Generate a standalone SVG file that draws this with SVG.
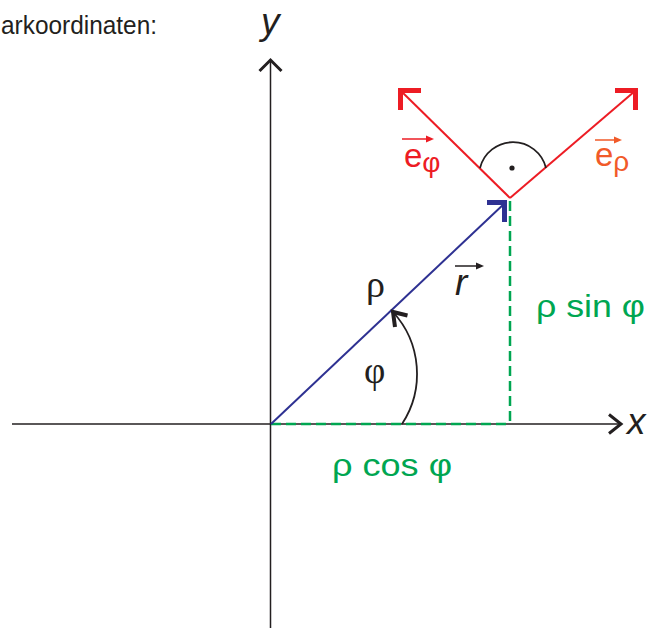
<svg xmlns="http://www.w3.org/2000/svg" width="650" height="628" viewBox="0 0 650 628">
<style>
.ax{stroke:#231f20;stroke-width:1.5;fill:none}
.chev{fill:none;stroke-linecap:butt;stroke-linejoin:miter}
.dash{stroke:#00a651;stroke-width:2.5;stroke-dasharray:10 5;fill:none}
.red{stroke:#ed1c24}
.sans{font-family:"Liberation Sans",Arial,sans-serif}
.serif{font-family:"Liberation Serif","Times New Roman",serif}
.dark{fill:#231f20}
.green{fill:#00a651}
</style>
<rect width="650" height="628" fill="#ffffff"/>
<g id="title">
<text class="sans dark" x="1" y="34" font-size="25" textLength="156" lengthAdjust="spacingAndGlyphs">arkoordinaten:</text>
</g>
<g id="axes">
<line class="ax" x1="270.5" y1="60" x2="270.5" y2="628"/>
<path class="chev" d="M259.5,71 L270.5,60 L281.5,71" stroke="#231f20" stroke-width="3"/>
<line class="ax" x1="12" y1="424" x2="620" y2="424"/>
<path class="chev" d="M609,414.5 L621,424 L609,433.5" stroke="#231f20" stroke-width="3"/>
<text class="sans dark" x="261" y="34" font-size="37" font-style="italic">y</text>
<text class="sans dark" x="627" y="434" font-size="37" font-style="italic">x</text>
</g>
<g id="projections">
<line class="dash" x1="510" y1="201" x2="510" y2="424"/>
<line class="dash" x1="271" y1="424" x2="510" y2="424"/>
</g>
<g id="vector-r">
<line x1="271" y1="424" x2="506" y2="202" stroke="#2e3192" stroke-width="2"/>
<path class="chev" d="M487,202.5 L504.5,202.5 L504.5,222" stroke="#2e3192" stroke-width="5"/>
<text class="sans dark" x="455" y="295" font-size="37" font-style="italic">r</text>
<line x1="455" y1="266" x2="477" y2="266" stroke="#231f20" stroke-width="1.5"/>
<path d="M476,262.5 L484,266 L476,269.5 Z" fill="#231f20"/>
<text class="serif dark" x="366" y="297" font-size="38">ρ</text>
</g>
<g id="angle-phi">
<path d="M402,424 A91.5,91.5 0 0 0 393,312" fill="none" stroke="#231f20" stroke-width="1.8"/>
<path class="chev" d="M407.5,315.5 L393,312 L395,327" stroke="#231f20" stroke-width="4"/>
<text class="serif dark" x="364" y="383" font-size="37">φ</text>
</g>
<g id="unit-vectors">
<line class="red" x1="510" y1="198" x2="401" y2="91" stroke-width="2"/>
<path class="chev red" d="M421,90.5 L400.5,90.5 L400.5,110" stroke-width="5"/>
<line class="red" x1="510" y1="198" x2="635" y2="91" stroke-width="2"/>
<path class="chev red" d="M615,90.5 L635.5,90.5 L635.5,110" stroke-width="5"/>
<path d="M480,168 A34,34 0 0 1 546,168" fill="none" stroke="#231f20" stroke-width="1.8"/>
<circle cx="512" cy="168" r="2.6" fill="#231f20"/>
</g>
<g id="label-e-phi">
<text class="sans" x="404" y="167" font-size="33" fill="#ed1c24">e<tspan font-size="28" dy="5">φ</tspan></text>
<line x1="402" y1="139" x2="427" y2="139" stroke="#ed1c24" stroke-width="1.5"/>
<path d="M426,135.5 L434,139 L426,142.5 Z" fill="#ed1c24"/>
</g>
<g id="label-e-rho">
<text class="sans" x="595" y="166" font-size="33" fill="#f15a29">e<tspan font-size="28" dy="5">ρ</tspan></text>
<line x1="595" y1="140" x2="615" y2="140" stroke="#f15a29" stroke-width="1.5"/>
<path d="M614,136.5 L622,140 L614,143.5 Z" fill="#f15a29"/>
</g>
<g id="labels-green">
<text class="sans green" x="536" y="317" font-size="32" textLength="109" lengthAdjust="spacingAndGlyphs">ρ sin φ</text>
<text class="sans green" x="332" y="476" font-size="31" textLength="120" lengthAdjust="spacingAndGlyphs">ρ cos φ</text>
</g>
</svg>
